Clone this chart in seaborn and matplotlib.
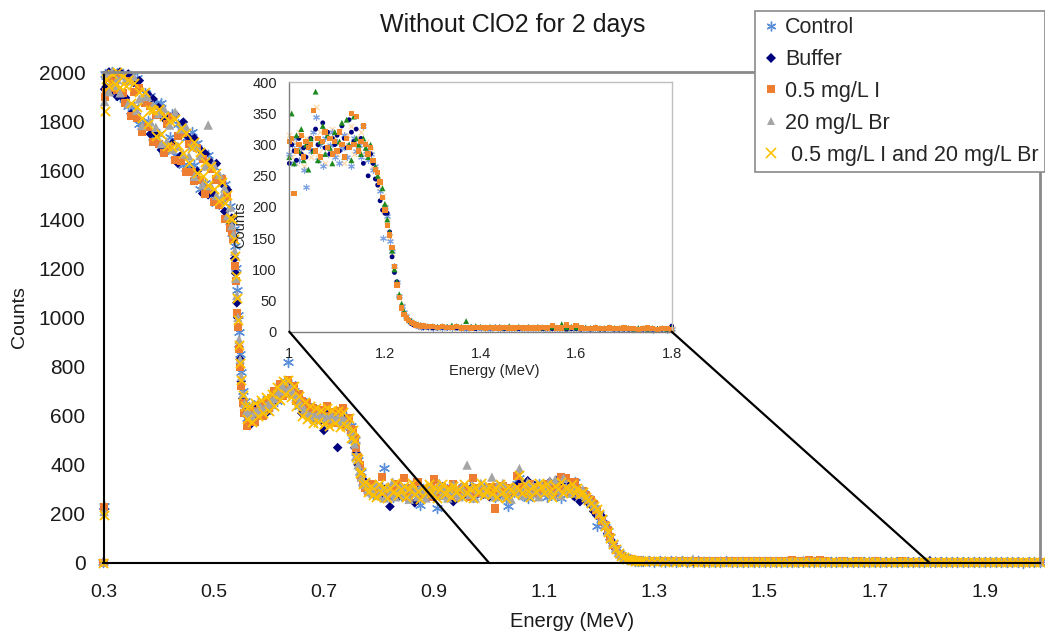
import matplotlib
matplotlib.use("Agg")
import matplotlib.pyplot as plt
import numpy as np
import pandas as pd
import seaborn as sns
from matplotlib.lines import Line2D
from matplotlib.patches import ConnectionPatch

# ---------------- data ----------------
energy = [
    0.300, 0.301, 0.302, 0.305, 0.310, 0.315, 0.320, 0.325, 0.330, 0.335,
    0.340, 0.345, 0.350, 0.355, 0.360, 0.365, 0.370, 0.375, 0.380, 0.385,
    0.390, 0.395, 0.400, 0.405, 0.410, 0.415, 0.420, 0.425, 0.430, 0.435,
    0.440, 0.445, 0.450, 0.455, 0.460, 0.465, 0.470, 0.475, 0.480, 0.485,
    0.490, 0.495, 0.500, 0.505, 0.510, 0.515, 0.520, 0.525, 0.530, 0.533,
    0.536, 0.538, 0.540, 0.542, 0.544, 0.546, 0.548, 0.550, 0.553, 0.556,
    0.560, 0.565, 0.570, 0.575, 0.580, 0.585, 0.590, 0.595, 0.600, 0.605,
    0.610, 0.615, 0.620, 0.625, 0.630, 0.635, 0.640, 0.645, 0.650, 0.655,
    0.660, 0.665, 0.670, 0.675, 0.680, 0.685, 0.690, 0.695, 0.700, 0.705,
    0.710, 0.715, 0.720, 0.725, 0.730, 0.735, 0.740, 0.745, 0.750, 0.753,
    0.756, 0.759, 0.762, 0.765, 0.768, 0.771, 0.775, 0.780, 0.785, 0.790,
    0.795, 0.800, 0.805, 0.810, 0.815, 0.820, 0.825, 0.830, 0.835, 0.840,
    0.845, 0.850, 0.855, 0.860, 0.865, 0.870, 0.875, 0.880, 0.885, 0.890,
    0.895, 0.900, 0.905, 0.910, 0.915, 0.920, 0.925, 0.930, 0.935, 0.940,
    0.945, 0.950, 0.955, 0.960, 0.965, 0.970, 0.975, 0.980, 0.985, 0.990,
    0.995, 1.000, 1.005, 1.010, 1.015, 1.020, 1.025, 1.030, 1.035, 1.040,
    1.045, 1.050, 1.055, 1.060, 1.065, 1.070, 1.075, 1.080, 1.085, 1.090,
    1.095, 1.100, 1.105, 1.110, 1.115, 1.120, 1.125, 1.130, 1.135, 1.140,
    1.145, 1.150, 1.155, 1.160, 1.165, 1.170, 1.175, 1.180, 1.185, 1.190,
    1.195, 1.200, 1.205, 1.210, 1.215, 1.220, 1.225, 1.230, 1.235, 1.240,
    1.245, 1.250, 1.255, 1.260, 1.265, 1.270, 1.275, 1.280, 1.290, 1.300,
    1.310, 1.320, 1.330, 1.340, 1.350, 1.360, 1.370, 1.380, 1.390, 1.400,
    1.410, 1.420, 1.430, 1.440, 1.450, 1.460, 1.470, 1.480, 1.490, 1.500,
    1.510, 1.520, 1.530, 1.540, 1.550, 1.560, 1.570, 1.580, 1.590, 1.600,
    1.610, 1.620, 1.630, 1.640, 1.650, 1.660, 1.670, 1.680, 1.690, 1.700,
    1.710, 1.720, 1.730, 1.740, 1.750, 1.760, 1.770, 1.780, 1.790, 1.800,
    1.810, 1.820, 1.830, 1.840, 1.850, 1.860, 1.870, 1.880, 1.890, 1.900,
    1.910, 1.920, 1.930, 1.940, 1.950, 1.960, 1.970, 1.980, 1.990, 2.000,
]

control = [
    3, 232, 1990, 1985, 1940, 2000, 1930, 1995, 1900, 1990,
    1985, 1862, 1985, 1857, 1974, 1790, 1792, 1913, 1800, 1902,
    1735, 1875, 1746, 1873, 1680, 1812, 1734, 1830, 1662, 1788,
    1788, 1621, 1732, 1618, 1754, 1620, 1710, 1525, 1655, 1547,
    1660, 1512, 1615, 1467, 1573, 1472, 1542, 1405, 1455, 1345,
    1360, 1290, 1200, 1110, 1010, 940, 850, 780, 700, 660,
    590, 580, 640, 600, 650, 610, 660, 620, 670, 640,
    690, 660, 720, 690, 740, 818, 730, 700, 690, 640,
    660, 610, 640, 590, 630, 580, 620, 600, 615, 570,
    620, 580, 610, 570, 600, 575, 595, 560, 560, 500,
    500, 430, 420, 370, 370, 330, 330, 300, 315, 280,
    305, 280, 310, 387, 285, 300, 270, 295, 310, 275,
    300, 265, 295, 310, 280, 290, 235, 300, 285, 305,
    280, 300, 225, 295, 305, 275, 290, 310, 280, 295,
    300, 275, 295, 285, 310, 270, 300, 290, 280, 305,
    290, 285, 300, 270, 310, 275, 295, 260, 232, 300,
    290, 320, 345, 275, 300, 265, 310, 285, 300, 320,
    280, 305, 270, 295, 315, 280, 300, 265, 310, 290,
    300, 280, 330, 290, 275, 285, 260, 265, 240, 225,
    150, 200, 185, 145, 130, 105, 80, 58, 42, 32,
    25, 18, 15, 12, 10, 9, 8, 8, 7, 6,
    7, 6, 8, 6, 7, 6, 5, 7, 6, 6,
    6, 5, 7, 5, 6, 5, 6, 5, 5, 6,
    5, 6, 5, 5, 6, 5, 5, 6, 5, 5,
    5, 4, 5, 4, 5, 4, 5, 4, 4, 5,
    4, 4, 5, 4, 4, 3, 4, 4, 3, 4,
    4, 3, 4, 3, 4, 3, 3, 4, 3, 3,
    3, 3, 4, 3, 3, 3, 2, 3, 3, 3,
]

buffer_solution = [
    2, 220, 1930, 1940, 2000, 1920, 1990, 1900, 2000, 1895,
    1895, 1992, 1830, 1957, 1829, 1965, 1767, 1883, 1910, 1747,
    1890, 1745, 1856, 1683, 1810, 1682, 1814, 1710, 1827, 1628,
    1658, 1796, 1597, 1733, 1594, 1730, 1595, 1685, 1505, 1667,
    1500, 1632, 1505, 1627, 1458, 1547, 1432, 1520, 1380, 1405,
    1320, 1240, 1180, 1060, 1000, 880, 830, 740, 670, 620,
    600, 560, 620, 590, 640, 605, 650, 610, 660, 650,
    660, 690, 680, 720, 700, 735, 690, 700, 660, 670,
    610, 640, 600, 620, 590, 615, 610, 580, 540, 605,
    600, 575, 610, 470, 595, 580, 590, 550, 530, 520,
    470, 450, 400, 390, 345, 340, 305, 310, 290, 300,
    290, 305, 275, 300, 285, 230, 300, 290, 270, 310,
    285, 300, 275, 295, 245, 290, 305, 280, 300, 285,
    295, 270, 300, 285, 310, 290, 275, 300, 250, 295,
    290, 305, 280, 300, 285, 310, 275, 295, 300, 280,
    285, 270, 300, 290, 275, 310, 285, 295, 280, 300,
    310, 290, 325, 300, 280, 335, 295, 320, 285, 310,
    300, 315, 290, 330, 310, 295, 340, 320, 305, 325,
    290, 310, 270, 300, 250, 285, 270, 245, 235, 210,
    195, 190, 190, 160, 120, 95, 80, 55, 40, 28,
    22, 17, 13, 11, 10, 9, 8, 7, 7, 6,
    6, 7, 6, 7, 6, 5, 6, 7, 5, 6,
    5, 6, 5, 6, 5, 5, 6, 5, 6, 5,
    6, 5, 5, 6, 5, 5, 5, 4, 5, 5,
    4, 5, 4, 5, 4, 4, 5, 4, 4, 4,
    4, 4, 3, 4, 4, 4, 3, 4, 4, 9,
    3, 4, 3, 3, 4, 3, 3, 3, 4, 3,
    3, 3, 3, 2, 3, 3, 3, 3, 2, 3,
]

iodide = [
    0, 228, 1900, 1920, 1975, 1935, 1960, 1925, 1985, 1915,
    1875, 1962, 1820, 1917, 1814, 1935, 1757, 1873, 1775, 1862,
    1715, 1825, 1706, 1838, 1670, 1787, 1694, 1815, 1642, 1738,
    1638, 1751, 1592, 1708, 1594, 1555, 1690, 1560, 1645, 1502,
    1525, 1607, 1470, 1562, 1458, 1562, 1402, 1490, 1365, 1350,
    1320, 1210, 1150, 1020, 960, 870, 800, 720, 650, 610,
    560, 590, 620, 575, 610, 640, 600, 655, 630, 670,
    700, 670, 730, 680, 715, 745, 700, 720, 660, 690,
    660, 620, 650, 600, 630, 610, 585, 625, 600, 640,
    580, 615, 570, 620, 600, 630, 560, 590, 545, 540,
    510, 470, 430, 400, 350, 320, 305, 290, 310, 320,
    280, 300, 350, 290, 275, 305, 290, 320, 285, 300,
    345, 290, 270, 305, 295, 330, 280, 300, 290, 270,
    305, 340, 280, 295, 310, 285, 300, 275, 320, 290,
    280, 300, 310, 290, 270, 345, 295, 305, 285, 300,
    295, 305, 310, 222, 290, 300, 315, 280, 305, 295,
    300, 355, 290, 310, 280, 305, 320, 295, 310, 285,
    305, 290, 320, 300, 280, 310, 295, 350, 300, 345,
    290, 305, 330, 300, 285, 295, 275, 260, 255, 240,
    215, 195, 170, 155, 135, 105, 75, 55, 38, 28,
    22, 18, 15, 13, 11, 10, 9, 9, 8, 8,
    7, 8, 7, 7, 8, 6, 7, 6, 7, 7,
    6, 7, 6, 6, 7, 6, 6, 7, 6, 6,
    6, 6, 7, 6, 10, 6, 6, 11, 7, 10,
    6, 5, 5, 6, 5, 5, 6, 5, 5, 6,
    5, 5, 4, 5, 6, 5, 4, 5, 5, 4,
    4, 4, 5, 4, 4, 4, 5, 4, 4, 4,
    4, 4, 3, 4, 4, 3, 4, 4, 3, 4,
]

bromide = [
    4, 210, 1880, 1990, 1920, 2000, 1945, 1970, 1915, 1985,
    1965, 1872, 1965, 1982, 1844, 1890, 1782, 1903, 1900, 1797,
    1865, 1775, 1831, 1708, 1850, 1717, 1784, 1685, 1837, 1698,
    1768, 1666, 1777, 1658, 1699, 1575, 1695, 1660, 1540, 1617,
    1784, 1537, 1625, 1497, 1583, 1492, 1527, 1415, 1450, 1375,
    1340, 1270, 1160, 1090, 1000, 910, 830, 760, 690, 650,
    620, 610, 600, 615, 620, 635, 625, 640, 650, 660,
    670, 685, 700, 720, 740, 705, 715, 690, 680, 655,
    640, 625, 610, 600, 605, 595, 610, 590, 600, 595,
    590, 600, 585, 595, 580, 590, 575, 560, 535, 510,
    485, 440, 400, 375, 350, 330, 320, 300, 290, 285,
    320, 275, 300, 265, 310, 285, 330, 270, 295, 315,
    280, 305, 260, 320, 290, 270, 310, 295, 265, 300,
    315, 280, 300, 325, 275, 305, 265, 295, 320, 285,
    270, 310, 290, 399, 280, 315, 265, 300, 325, 285,
    305, 280, 350, 270, 315, 290, 325, 275, 300, 260,
    310, 290, 385, 275, 305, 330, 285, 315, 295, 270,
    320, 290, 305, 335, 280, 340, 300, 275, 345, 310,
    300, 285, 310, 295, 280, 300, 275, 265, 250, 240,
    230, 205, 180, 160, 130, 100, 80, 60, 45, 33,
    25, 20, 17, 15, 13, 12, 11, 10, 9, 9,
    8, 9, 8, 10, 9, 8, 17, 8, 9, 8,
    7, 8, 7, 8, 7, 9, 7, 8, 7, 8,
    7, 8, 7, 7, 8, 7, 12, 7, 8, 7,
    6, 7, 6, 7, 6, 6, 7, 6, 6, 7,
    6, 5, 6, 6, 5, 6, 5, 6, 5, 6,
    5, 5, 4, 5, 5, 4, 5, 5, 4, 5,
    4, 5, 4, 4, 5, 4, 4, 4, 5, 4,
]

combined = [
    0, 195, 1840, 1970, 1945, 1990, 1950, 2000, 1940, 1985,
    1945, 1967, 1875, 1957, 1859, 1920, 1812, 1918, 1790, 1847,
    1845, 1740, 1851, 1748, 1820, 1697, 1799, 1695, 1807, 1703,
    1773, 1671, 1752, 1628, 1689, 1715, 1590, 1675, 1575, 1632,
    1540, 1617, 1525, 1587, 1473, 1552, 1467, 1500, 1405, 1400,
    1320, 1250, 1170, 1080, 990, 890, 815, 745, 685, 640,
    585, 640, 575, 650, 600, 665, 610, 675, 620, 690,
    640, 715, 665, 740, 690, 745, 675, 720, 640, 680,
    600, 655, 585, 640, 570, 630, 575, 625, 565, 630,
    560, 625, 570, 620, 555, 615, 560, 590, 510, 540,
    500, 430, 425, 365, 370, 320, 330, 290, 315, 275,
    270, 320, 285, 310, 265, 305, 290, 325, 275, 300,
    315, 270, 300, 325, 280, 295, 260, 310, 290, 320,
    285, 310, 265, 300, 320, 280, 305, 270, 315, 290,
    300, 270, 320, 285, 305, 265, 310, 290, 325, 275,
    295, 315, 280, 305, 270, 320, 290, 265, 310, 300,
    280, 310, 360, 285, 320, 295, 270, 315, 290, 325,
    310, 285, 320, 295, 270, 315, 300, 330, 285, 310,
    295, 320, 285, 305, 280, 290, 268, 258, 245, 232,
    218, 200, 178, 152, 126, 100, 76, 56, 41, 30,
    23, 18, 15, 12, 10, 9, 8, 8, 7, 7,
    7, 6, 7, 6, 6, 7, 6, 6, 6, 6,
    6, 5, 6, 5, 6, 5, 5, 6, 5, 5,
    5, 5, 6, 5, 5, 5, 5, 5, 5, 5,
    5, 4, 5, 4, 4, 5, 4, 4, 5, 4,
    4, 4, 4, 4, 3, 4, 4, 4, 3, 4,
    3, 4, 3, 3, 3, 4, 3, 3, 3, 3,
    3, 3, 3, 3, 3, 3, 3, 3, 3, 3,
]

series_labels = ["Control", "Buffer", "0.5 mg/L I", "20 mg/L Br",
                 " 0.5 mg/L I and 20 mg/L Br"]
title_text = "Without ClO2 for 2 days"
x_major_ticks = [0.3, 0.5, 0.7, 0.9, 1.1, 1.3, 1.5, 1.7, 1.9]
x_major_labels = ["0.3", "0.5", "0.7", "0.9", "1.1", "1.3", "1.5", "1.7", "1.9"]
x_minor_ticks = [0.4, 0.6, 0.8, 1.0, 1.2, 1.4, 1.6, 1.8, 2.0]
y_ticks = [0, 200, 400, 600, 800, 1000, 1200, 1400, 1600, 1800, 2000]
inset_x_ticks = [1.0, 1.2, 1.4, 1.6, 1.8]
inset_x_labels = ["1", "1.2", "1.4", "1.6", "1.8"]
inset_y_ticks = [0, 50, 100, 150, 200, 250, 300, 350, 400]

# ---------------- build tidy data ----------------
wide = pd.DataFrame({
    "Energy": energy,
    series_labels[0]: control,
    series_labels[1]: buffer_solution,
    series_labels[2]: iodide,
    series_labels[3]: bromide,
    series_labels[4]: combined,
})
long = wide.melt(id_vars="Energy", var_name="Series", value_name="Counts")

sns.set_style("white")
plt.rcParams["font.family"] = ["Liberation Sans", "DejaVu Sans"]

W, H = 1045, 633
fig = plt.figure(figsize=(W / 100, H / 100), dpi=100)
fig.patch.set_facecolor("white")

# main axes: x 103.5..1040 px, y 72..563 px
ax = fig.add_axes([103.5 / W, 1 - 563 / H, (1040 - 103.5) / W, (563 - 72) / H])

asterisk = (6, 2, 0)
main_styles = [
    dict(marker=asterisk, color="#5B8FD9", s=52, lw=1.0),
    dict(marker="D", color="#00007F", s=24, lw=0),
    dict(marker="s", color="#ED7D31", s=34, lw=0),
    dict(marker="^", color="#A5A5A5", s=46, lw=0),
    dict(marker="x", color="#FFC000", s=44, lw=1.3),
]

for name, st in zip(series_labels, main_styles):
    sub = long[long["Series"] == name]
    kw = dict(data=sub, x="Energy", y="Counts", ax=ax, marker=st["marker"],
              color=st["color"], s=st["s"], linewidth=st["lw"], legend=False,
              clip_on=False)
    if st["lw"] == 0:
        kw["edgecolor"] = "none"
    sns.scatterplot(**kw)

ax.set_xlim(0.3, 2.0)
ax.set_ylim(0, 2000)
ax.set_xticks(x_major_ticks)
ax.set_xticklabels(x_major_labels)
ax.set_xticks(x_minor_ticks, minor=True)
ax.set_yticks(y_ticks)
ax.set_yticklabels([str(v) for v in y_ticks])
ax.tick_params(axis="both", which="both", direction="in", length=6, width=1,
               color="black", labelcolor="#1a1a1a")
ax.tick_params(axis="x", which="major", labelsize=14, pad=15)
ax.tick_params(axis="y", which="major", labelsize=15, pad=13)
for side in ["left", "bottom"]:
    ax.spines[side].set_color("black")
    ax.spines[side].set_linewidth(1.5)
for side in ["top", "right"]:
    ax.spines[side].set_color("#8A8A8A")
    ax.spines[side].set_linewidth(2)
ax.set_xlabel("Energy (MeV)", fontsize=14.5, color="#1a1a1a")
ax.set_ylabel("Counts", fontsize=14, color="#1a1a1a")
ax.xaxis.set_label_coords(0.5, -0.1)
ax.yaxis.set_label_coords(-0.081, 0.5)

fig.text(513 / W, 1 - 25 / H, title_text, ha="center", va="center",
         fontsize=18, color="#1a1a1a")

# legend
handles = [
    Line2D([], [], linestyle="none", marker=asterisk, color="#5B8FD9",
           markersize=7, markeredgewidth=1.0),
    Line2D([], [], linestyle="none", marker="D", color="#00007F",
           markersize=5, markeredgewidth=0),
    Line2D([], [], linestyle="none", marker="s", color="#ED7D31",
           markersize=5.5, markeredgewidth=0),
    Line2D([], [], linestyle="none", marker="^", color="#A5A5A5",
           markersize=6, markeredgewidth=0),
    Line2D([], [], linestyle="none", marker="x", color="#FFC000",
           markersize=6.5, markeredgewidth=1.2),
]
leg = ax.legend(handles, series_labels, loc="upper left",
                bbox_to_anchor=(755 / W, 1 - 11 / H),
                bbox_transform=fig.transFigure, fontsize=15.5, frameon=True,
                fancybox=False, edgecolor="#8A8A8A", framealpha=1,
                borderpad=0.3, labelspacing=0.5, handlelength=0.9,
                handletextpad=0.2, borderaxespad=0)
leg.get_frame().set_linewidth(1.2)
leg.set_zorder(10)

# ---------------- inset ----------------
ax_in = fig.add_axes([289.3 / W, 1 - 331.7 / H, (671.7 - 289.3) / W,
                      (331.7 - 82.3) / H])
ax_in.set_facecolor("white")

inset_styles = {
    series_labels[4]: dict(marker="x", color="#FFD5A0", s=16, lw=0.8),
    series_labels[0]: dict(marker=asterisk, color="#7FA3E0", s=18, lw=0.8),
    series_labels[1]: dict(marker="o", color="#00007F", s=12, lw=0),
    series_labels[3]: dict(marker="^", color="#1E8A1E", s=18, lw=0),
    series_labels[2]: dict(marker="s", color="#F0882E", s=15, lw=0),
}
inset_data = long[(long["Energy"] >= 1.0) & (long["Energy"] <= 1.8)]
for name, st in inset_styles.items():
    sub = inset_data[inset_data["Series"] == name]
    kw = dict(data=sub, x="Energy", y="Counts", ax=ax_in, marker=st["marker"],
              color=st["color"], s=st["s"], linewidth=st["lw"], legend=False,
              clip_on=False)
    if st["lw"] == 0:
        kw["edgecolor"] = "none"
    sns.scatterplot(**kw)

ax_in.set_xlim(1.0, 1.8)
ax_in.set_ylim(0, 400)
ax_in.set_xticks(inset_x_ticks)
ax_in.set_xticklabels(inset_x_labels)
ax_in.set_yticks(inset_y_ticks)
ax_in.set_yticklabels([str(v) for v in inset_y_ticks])
ax_in.tick_params(axis="both", direction="out", length=3, width=0.8,
                  color="#808080", labelsize=10.5, labelcolor="#262626")
ax_in.tick_params(axis="x", pad=8)
ax_in.tick_params(axis="y", pad=6)
for side in ["left", "bottom"]:
    ax_in.spines[side].set_color("#7F7F7F")
    ax_in.spines[side].set_linewidth(1.0)
for side in ["top", "right"]:
    ax_in.spines[side].set_color("#BFBFBF")
    ax_in.spines[side].set_linewidth(1.0)
ax_in.set_xlabel("Energy (MeV)", fontsize=10.5, color="#262626")
ax_in.set_ylabel("Counts", fontsize=10.5, color="#262626")
ax_in.xaxis.set_label_coords(0.535, -0.13)
ax_in.yaxis.set_label_coords(-0.11, 0.43)

# zoom connector lines
for xa, xb in [(1.0, 1.0), (1.8, 1.8)]:
    con = ConnectionPatch(xyA=(xa, 0), coordsA=ax.transData,
                          xyB=(xb, 0), coordsB=ax_in.transData,
                          color="black", linewidth=1.6)
    fig.add_artist(con)

fig.savefig("out.png", dpi=100)
